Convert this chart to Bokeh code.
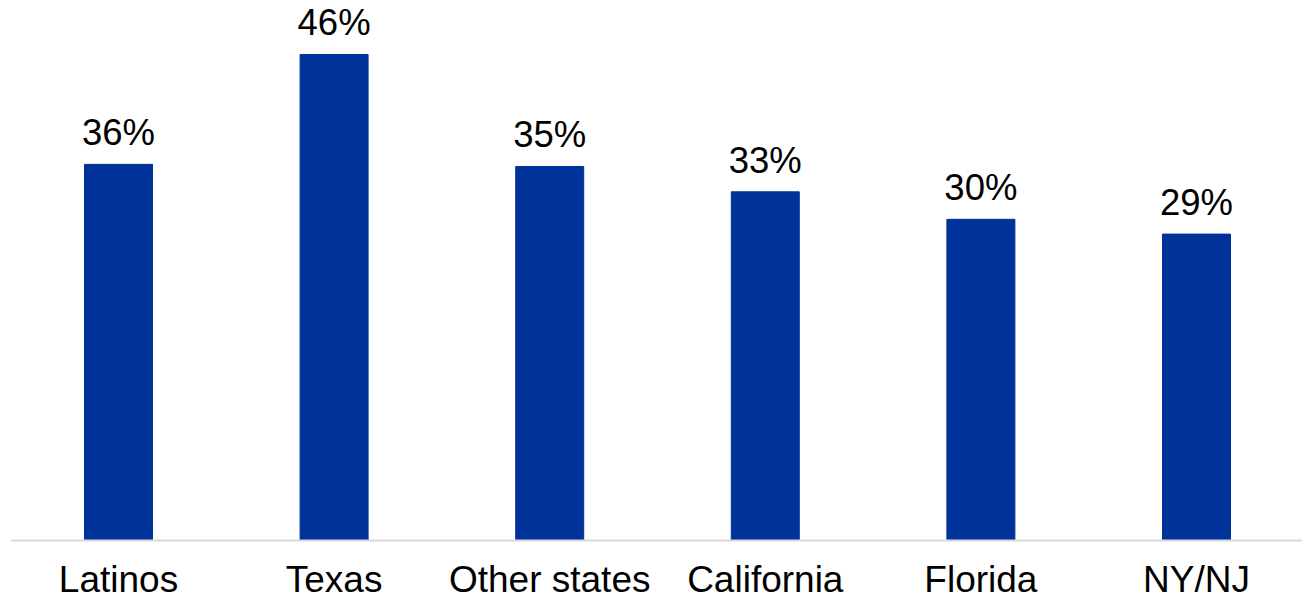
from bokeh.plotting import figure
from bokeh.models import ColumnDataSource, Range1d, LabelSet, Span
from bokeh.core.properties import value
from bokeh.embed import file_html
from bokeh.resources import INLINE

categories = ["Latinos", "Texas", "Other states", "California", "Florida", "NY/NJ"]
values = [35.6, 46.0, 35.4, 33.0, 30.4, 29.0]
labels = [f"{round(v)}%" for v in values]
positions = list(range(len(categories)))

src = ColumnDataSource(dict(x=positions, top=values, label=labels,
                            cat=categories, zero=[0] * len(categories)))

p = figure(width=1302, height=600, output_backend="svg", toolbar_location=None,
           x_range=Range1d(-0.5009, 5.4917), y_range=Range1d(-5.679, 51.11),
           min_border_left=10, min_border_right=0, min_border_top=0, min_border_bottom=0)

p.vbar(x="x", top="top", bottom=0, width=0.3154, source=src, color="#003399")

baseline = Span(location=0, dimension="width", line_color="#d9d9d9", line_width=2)
p.add_layout(baseline)

val_lbl = LabelSet(x="x", y="top", text="label", source=src, text_align="center",
                   text_baseline="alphabetic", y_offset=19, text_font=value("Liberation Sans"),
                   text_font_size="36.5px", text_color="#000000")
p.add_layout(val_lbl)

cat_lbl = LabelSet(x="x", y="zero", text="cat", source=src, text_align="center",
                   text_baseline="alphabetic", y_offset=-52, text_font=value("Liberation Sans"),
                   text_font_size="37px", text_color="#000000")
p.add_layout(cat_lbl)

p.xaxis.visible = False
p.yaxis.visible = False
p.xgrid.visible = False
p.ygrid.visible = False
p.outline_line_color = None

open("out.html", "w").write(file_html(p, INLINE))
